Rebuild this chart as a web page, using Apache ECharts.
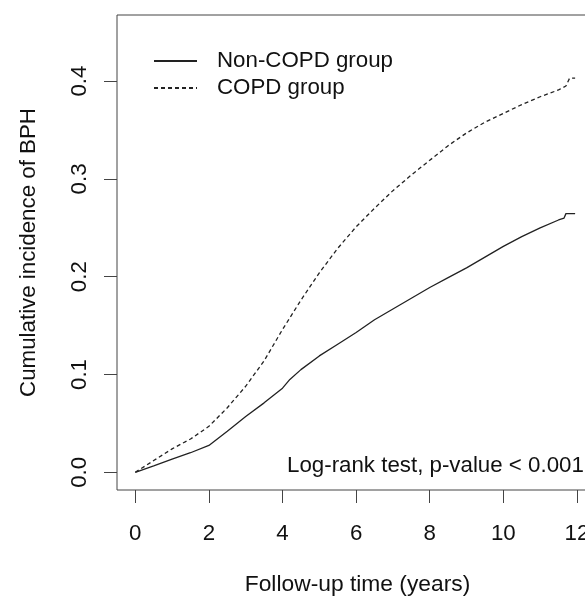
<!DOCTYPE html>
<html>
<head>
<meta charset="utf-8">
<script src="https://cdn.jsdelivr.net/npm/echarts@6/dist/echarts.min.js"></script>
<style>html,body{margin:0;padding:0;background:#fff;}#c{width:585px;height:596px;}</style>
</head>
<body>
<div id="c"></div>
<script>
var xTicks = [0, 2, 4, 6, 8, 10, 12];
var yTicks = [0, 0.1, 0.2, 0.3, 0.4];
var yTickLabels = ['0.0', '0.1', '0.2', '0.3', '0.4'];
var nonCopdTime = [0, 0.5, 1, 1.5, 2, 2.5, 3, 3.5, 4, 4.2, 4.5, 5, 5.5, 6, 6.5, 7, 7.5, 8, 8.5, 9, 9.5, 10, 10.5, 11, 11.5, 11.65, 11.7, 11.95];
var nonCopdValue = [0, 0.0065, 0.0135, 0.020, 0.0275, 0.042, 0.057, 0.071, 0.086, 0.095, 0.105, 0.119, 0.131, 0.143, 0.156, 0.167, 0.178, 0.189, 0.199, 0.209, 0.220, 0.231, 0.241, 0.250, 0.258, 0.260, 0.2645, 0.2645];
var copdTime = [0, 0.5, 1, 1.5, 2, 2.5, 3, 3.5, 4, 4.5, 5, 5.5, 6, 6.5, 7, 7.5, 8, 8.5, 9, 9.5, 10, 10.5, 11, 11.5, 11.7, 11.8, 11.95];
var copdValue = [0, 0.012, 0.024, 0.034, 0.047, 0.066, 0.088, 0.114, 0.146, 0.176, 0.204, 0.229, 0.251, 0.270, 0.288, 0.304, 0.319, 0.334, 0.347, 0.358, 0.367, 0.376, 0.384, 0.391, 0.395, 0.403, 0.403];
var seriesNames = ['Non-COPD group', 'COPD group'];

function pairs(t, v) { return t.map(function (x, i) { return [x, v[i]]; }); }

var font = 'Liberation Sans, Arial, sans-serif';
var fs = 22.3;
var chart = echarts.init(document.getElementById('c'), null, { renderer: 'canvas' });
chart.setOption({
  animation: false,
  backgroundColor: '#fff',
  grid: { left: 117, top: 15, right: -3, bottom: 106, show: true, borderColor: '#444', borderWidth: 1, backgroundColor: 'transparent', outerBoundsMode: 'none' },
  legend: {
    orient: 'vertical', left: 153, top: 50, padding: 0, itemWidth: 43, itemHeight: 14, itemGap: 5,
    itemStyle: { opacity: 0 },
    textStyle: { fontFamily: font, fontSize: fs, color: '#111', padding: [0, 0, 0, 15] },
    data: seriesNames
  },
  xAxis: {
    type: 'value', min: -0.497, max: 12.30,
    axisLine: { show: false, onZero: false },
    axisTick: { show: true, length: 13, lineStyle: { color: '#444', width: 1 }, customValues: xTicks },
    axisLabel: { fontFamily: font, fontSize: fs, color: '#111', margin: 33, customValues: xTicks },
    splitLine: { show: false },
    name: 'Follow-up time (years)', nameLocation: 'middle', nameGap: 83,
    nameTextStyle: { fontFamily: font, fontSize: 22.8, color: '#111', padding: [0, 0, 0, 10] }
  },
  yAxis: {
    type: 'value', min: -0.0181, max: 0.4676,
    axisLine: { show: false, onZero: false },
    axisTick: { show: true, length: 13, lineStyle: { color: '#444', width: 1 }, customValues: yTicks },
    axisLabel: {
      fontFamily: font, fontSize: fs, color: '#111', margin: 26, rotate: 90, customValues: yTicks,
      formatter: function (v) { var i = yTicks.indexOf(v); return i >= 0 ? yTickLabels[i] : ''; }
    },
    splitLine: { show: false },
    name: 'Cumulative incidence of BPH', nameLocation: 'middle', nameGap: 77, nameRotate: 90,
    nameTextStyle: { fontFamily: font, fontSize: fs, color: '#111' }
  },
  graphic: [{
    type: 'text', left: 287, top: 455,
    style: { text: 'Log-rank test, p-value < 0.001', fontFamily: font, fontSize: fs, fill: '#111' }
  }],
  series: [
    { name: seriesNames[0], type: 'line', data: pairs(nonCopdTime, nonCopdValue), symbol: 'none', smooth: false,
      lineStyle: { color: '#222', width: 1.3, type: 'solid' }, itemStyle: { color: '#222' } },
    { name: seriesNames[1], type: 'line', data: pairs(copdTime, copdValue), symbol: 'none', smooth: false,
      lineStyle: { color: '#222', width: 1.3, type: [4, 3] }, itemStyle: { color: '#222' } }
  ]
});
</script>
</body>
</html>
